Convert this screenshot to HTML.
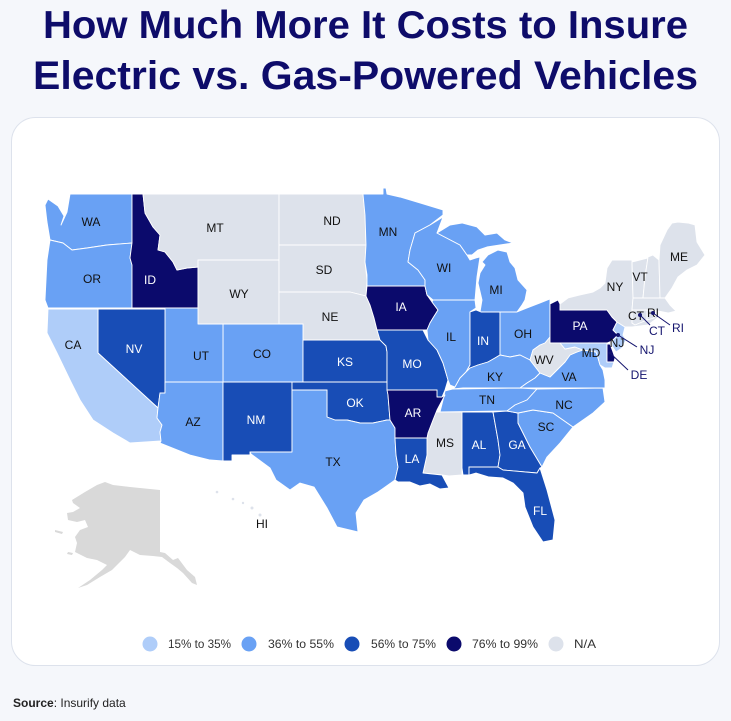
<!DOCTYPE html>
<html><head><meta charset="utf-8"><style>
html,body{margin:0;padding:0;background:#f5f7fb;}
svg{display:block;}
.s{stroke:#fff;stroke-width:0.9;stroke-linejoin:round;}
.l{fill:#afcdf9}.m{fill:#69a1f4}.d{fill:#184db6}.n{fill:#0b0a6c}.g{fill:#dde2eb}
.t{font-family:"Liberation Sans",sans-serif;font-size:12px;text-anchor:middle;fill:#111;}
.w{fill:#fff;}
.c{fill:#14146e;}
</style></head><body>
<svg width="731" height="721" viewBox="0 0 731 721" xmlns="http://www.w3.org/2000/svg">
<rect width="731" height="721" fill="#f5f7fb"/>
<text x="43" y="38" textLength="645" lengthAdjust="spacingAndGlyphs" font-family="Liberation Sans, sans-serif" font-weight="bold" font-size="39" fill="#0e0c6a">How Much More It Costs to Insure</text>
<text x="33" y="89" textLength="665" lengthAdjust="spacingAndGlyphs" font-family="Liberation Sans, sans-serif" font-weight="bold" font-size="40" fill="#0e0c6a">Electric vs. Gas-Powered Vehicles</text>
<rect x="11.5" y="117.5" width="708" height="548" rx="24" fill="#fff" stroke="#dde2ec"/>
<g class="s">
<polygon class="m" points="45,205 48,199 58,206 64,216 61,225 67,212 70,194 132,194 132,243 107,245 87,248 72,250 63,243 50,240 47,222"/>
<polygon class="m" points="50,240 63,243 72,250 87,248 107,245 132,243 130,258 132,265 132,308 48,308 45,300 46,280 47,260"/>
<polygon class="n" points="132,194 143,194 145,213 153,227 160,235 158,250 165,252 173,262 177,270 187,268 198,267 198,308 132,308 132,265 130,258 132,243"/>
<polygon class="g" points="143,194 279,194 279,260 198,260 198,267 187,268 177,270 173,262 165,252 158,250 160,235 153,227 145,213"/>
<polygon class="g" points="198,260 279,260 279,324 198,324"/>
<polygon class="g" points="279,194 363,194 365,215 366,245 279,245"/>
<polygon class="g" points="279,245 366,245 365,262 367,280 366,296 358,294 350,292 279,292"/>
<polygon class="g" points="279,292 350,292 358,294 366,296 370,305 374,318 377,330 380,340 303,340 303,324 279,324"/>
<polygon class="m" points="223,324 303,324 303,382 223,382"/>
<polygon class="m" points="165,308 198,308 198,324 223,324 223,382 165,382"/>
<polygon class="d" points="98,309 165,309 165,393 160,393 158,408 98,353"/>
<polygon class="l" points="48,309 98,309 98,353 158,408 157,418 162,425 160,432 161,441 130,443 113,433 93,420 80,400 70,380 57,353 47,333"/>
<polygon class="m" points="165,382 223,382 223,461 210,460 190,455 160,443 161,441 160,432 162,425 157,418 158,408 160,393 165,393"/>
<polygon class="d" points="223,382 292,382 292,452 250,452 250,455 232,455 232,461 223,461"/>
<polygon class="d" points="303,340 380,340 386,346 387,352 387,382 303,382"/>
<polygon class="d" points="292,382 387,382 388,395 390,420 387,420 373,423 360,423 347,420 335,420 327,417 327,390 292,390"/>
<polygon class="m" points="292,390 327,390 327,417 335,420 347,420 360,423 373,423 387,420 390,420 395,428 395,438 396,455 398,467 395,480 378,492 364,500 356,513 358,532 337,527 327,508 314,487 300,483 290,490 276,480 270,468 251,454 250,452 292,452"/>
<polygon class="d" points="377,330 423,330 428,340 437,350 443,363 448,380 445,390 442,397 437,397 437,390 387,390 387,352 386,346 380,340"/>
<polygon class="n" points="367,286 425,286 427,295 432,302 438,310 433,318 430,323 427,330 423,330 377,330 374,318 370,305 366,296"/>
<polygon class="m" points="363,194 383,194 383,188 386,188 387,194 400,197 420,203 443,210 443,215 430,225 415,233 410,250 408,262 418,270 425,280 425,286 367,286 367,275 365,262 366,245 365,215"/>
<polygon class="m" points="415,233 430,225 443,217 437,233 460,245 467,255 470,260 476,258 480,257 477,277 475,300 433,300 427,295 425,286 425,280 418,270 408,262 410,250"/>
<polygon class="m" points="437,233 450,225 462,223 477,227 485,235 497,233 505,240 513,243 500,245 487,247 478,250 472,255 467,255 460,245"/>
<polygon class="m" points="482,262 488,255 498,250 507,252 510,262 515,268 518,280 527,290 525,300 522,305 517,312 500,312 480,312 482,300 478,283 480,273 485,265"/>
<polygon class="m" points="433,300 475,300 476,308 470,312 470,365 466,372 460,378 455,387 450,385 448,380 443,363 437,350 428,340 427,330 430,323 433,318 438,310 432,302"/>
<polygon class="d" points="470,312 476,310 481,312 500,312 500,355 495,358 488,362 478,365 470,368 466,372 470,365"/>
<polygon class="m" points="500,312 517,312 527,308 540,303 550,299 550,337 545,343 540,345 533,350 530,360 520,355 510,357 500,355"/>
<polygon class="m" points="455,387 460,378 466,372 470,368 478,365 488,362 495,358 500,355 510,357 520,355 530,360 540,373 535,378 527,383 520,388 463,388 453,389"/>
<polygon class="m" points="445,391 453,389 520,388 537,389 527,400 515,405 507,411 440,412 443,400"/>
<polygon class="g" points="436,412 462,412 462,475 449,476 442,475 423,473 427,455 427,438 428,433 433,420"/>
<polygon class="n" points="387,390 437,390 437,397 442,397 445,395 437,410 433,420 428,433 427,438 395,438 395,428 390,420 388,395"/>
<polygon class="d" points="395,438 427,438 427,455 423,473 442,475 449,488 440,489 430,484 420,486 410,482 398,482 395,480 398,467 396,455"/>
<polygon class="d" points="462,412 493,412 498,440 500,455 498,467 469,467 469,475 463,475 462,468"/>
<polygon class="d" points="493,412 507,411 518,413 518,423 530,447 542,467 540,468 537,473 503,470 498,467 500,455 498,440"/>
<polygon class="d" points="469,467 498,467 503,470 537,473 540,468 547,490 555,520 553,540 543,542 533,527 525,507 523,493 513,483 503,478 489,477 476,473 469,475"/>
<polygon class="m" points="518,413 533,410 553,413 573,427 560,443 547,457 542,467 530,447 518,423"/>
<polygon class="m" points="507,411 515,405 527,400 537,389 603,388 605,402 593,413 573,427 553,413 533,410 518,413"/>
<polygon class="m" points="520,388 527,383 535,378 540,373 550,377 560,367 565,362 570,355 577,352 583,350 590,351 596,352 598,358 600,365 603,370 605,380 605,388"/>
<polygon class="g" points="530,360 533,350 540,345 545,343 550,337 552,335 552,343 560,343 565,349 575,347 583,350 577,352 570,355 565,362 560,367 550,377 540,373"/>
<polygon class="l" points="560,343 607,343 607,362 614,362 612,368 605,368 600,365 598,358 596,352 590,351 583,350 575,347 565,349"/>
<polygon class="n" points="607,344 610,344 613,352 615,358 614,362 607,362"/>
<polygon class="n" points="550,304 558,300 560,304 560,310 607,310 612,317 617,322 613,330 618,335 612,341 607,343 550,343"/>
<polygon class="l" points="617,322 625,327 623,335 626,340 622,348 616,352 612,346 612,341 618,335 613,330"/>
<polygon class="g" points="560,310 560,304 568,298 580,295 593,292 600,288 605,283 607,268 612,260 632,260 633,298 632,310 632,323 640,322 655,316 660,316 648,325 632,327 625,327 617,322 612,317 607,310"/>
<polygon class="g" points="632,262 648,258 645,277 643,298 633,298"/>
<polygon class="g" points="648,257 653,255 659,260 660,298 643,298 645,277"/>
<polygon class="g" points="659,260 660,245 667,230 672,223 678,222 688,223 695,225 697,242 705,255 697,265 687,270 678,277 672,288 665,298 660,298"/>
<polygon class="g" points="633,298 665,298 670,305 676,311 668,313 653,310 632,310"/>
<polygon class="g" points="632,310 647,310 647,320 635,325 632,323"/>
<polygon class="g" points="647,310 653,310 654,318 647,320"/>
</g>
<polygon fill="#d9d9d9" points="72,500 85,492 97,485 105,482 113,485 130,487 160,490 160,552 165,553 173,560 178,558 187,570 195,577 197,585 192,583 183,573 177,568 170,563 162,557 153,556 140,555 130,550 125,557 120,562 112,570 100,577 87,585 78,588 90,580 102,570 107,565 97,560 87,558 75,552 77,543 75,537 80,530 88,527 85,520 77,522 68,520 67,513 73,512 80,508 73,503"/>
<polygon fill="#d9d9d9" points="55,530 63,532 62,534 55,532"/>
<polygon fill="#d9d9d9" points="68,552 73,553 72,555 67,554"/>
<g fill="#dde2eb"><circle cx="217" cy="492" r="1.3"/><circle cx="233" cy="499" r="1.3"/><circle cx="243" cy="503" r="1.2"/><circle cx="252" cy="508" r="1.5"/><circle cx="260" cy="515" r="1.5"/></g>
<g class="t">
<text x="91" y="226">WA</text><text x="92" y="283">OR</text><text x="150" y="284" class="w">ID</text>
<text x="215" y="232">MT</text><text x="332" y="225">ND</text><text x="324" y="274">SD</text>
<text x="239" y="298">WY</text><text x="330" y="321">NE</text><text x="73" y="349">CA</text>
<text x="134" y="353" class="w">NV</text><text x="201" y="360">UT</text><text x="262" y="358">CO</text>
<text x="345" y="366" class="w">KS</text><text x="355" y="407" class="w">OK</text><text x="256" y="424" class="w">NM</text>
<text x="193" y="426">AZ</text><text x="333" y="466">TX</text><text x="388" y="236">MN</text>
<text x="444" y="272">WI</text><text x="496" y="294">MI</text><text x="401" y="311" class="w">IA</text>
<text x="451" y="341">IL</text><text x="483" y="345" class="w">IN</text><text x="523" y="338">OH</text>
<text x="412" y="368" class="w">MO</text><text x="495" y="381">KY</text><text x="544" y="364">WV</text>
<text x="569" y="381">VA</text><text x="487" y="404">TN</text><text x="564" y="409">NC</text>
<text x="546" y="431">SC</text><text x="413" y="417" class="w">AR</text><text x="445" y="447">MS</text>
<text x="479" y="449" class="w">AL</text><text x="517" y="449" class="w">GA</text><text x="412" y="463" class="w">LA</text>
<text x="540" y="515" class="w">FL</text><text x="580" y="330" class="w">PA</text><text x="615" y="291">NY</text>
<text x="640" y="281">VT</text><text x="679" y="261">ME</text><text x="591" y="357">MD</text>
<text x="617" y="347">NJ</text><text x="636" y="320">CT</text><text x="653" y="317">RI</text>
<text x="262" y="528">HI</text>
</g>
<g stroke="#14146e" stroke-width="1">
<line x1="640" y1="315" x2="650" y2="325"/><line x1="653" y1="313" x2="670" y2="325"/>
<line x1="618" y1="335" x2="637" y2="347"/><line x1="610" y1="353" x2="628" y2="370"/>
</g>
<g fill="#14146e"><circle cx="640" cy="315" r="2"/><circle cx="653" cy="313" r="2"/><circle cx="618" cy="335" r="2"/><circle cx="610" cy="353" r="1.5"/></g>
<g class="t c">
<text x="657" y="335">CT</text><text x="678" y="332">RI</text><text x="647" y="354">NJ</text><text x="639" y="379">DE</text>
</g>
<circle cx="150" cy="644" r="7.5" fill="#afcdf9"/>
<circle cx="249" cy="644" r="7.5" fill="#69a1f4"/>
<circle cx="352" cy="644" r="7.5" fill="#184db6"/>
<circle cx="454" cy="644" r="7.5" fill="#0b0a6c"/>
<circle cx="556" cy="644" r="7.5" fill="#dde2eb"/>
<g font-family="Liberation Sans, sans-serif" font-size="12" fill="#333">
<text x="168" y="648" textLength="63" lengthAdjust="spacingAndGlyphs">15% to 35%</text>
<text x="268" y="648" textLength="66" lengthAdjust="spacingAndGlyphs">36% to 55%</text>
<text x="371" y="648" textLength="65" lengthAdjust="spacingAndGlyphs">56% to 75%</text>
<text x="472" y="648" textLength="66" lengthAdjust="spacingAndGlyphs">76% to 99%</text>
<text x="574" y="648" textLength="22" lengthAdjust="spacingAndGlyphs">N/A</text>
</g>
<text x="13" y="707" font-family="Liberation Sans, sans-serif" font-size="12" fill="#222"><tspan font-weight="bold">Source</tspan>: Insurify data</text>
</svg>
</body></html>
